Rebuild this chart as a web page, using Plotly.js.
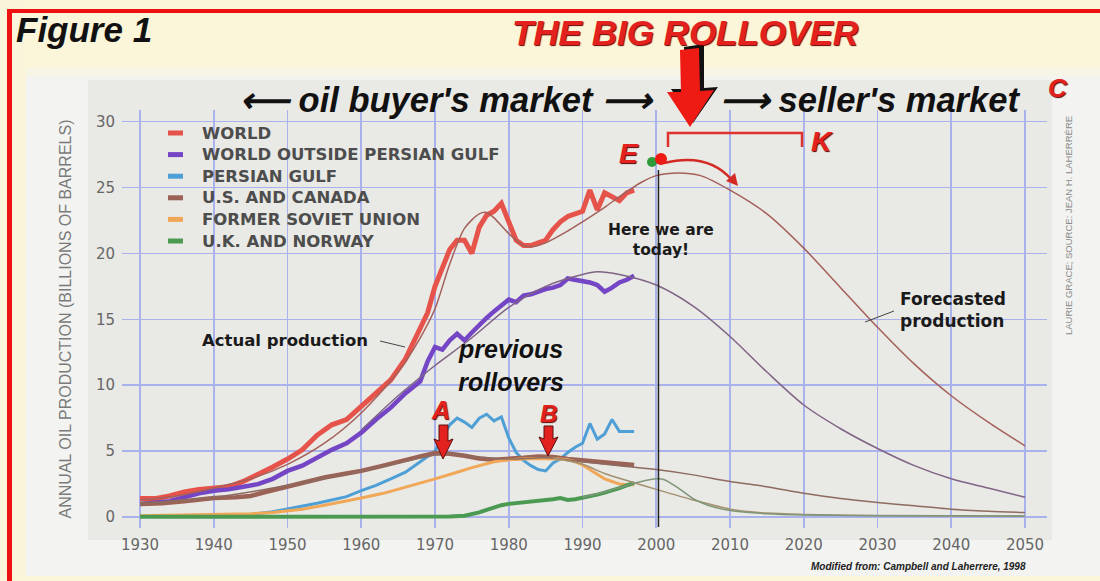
<!DOCTYPE html>
<html>
<head>
<meta charset="utf-8">
<script src="https://cdn.plot.ly/plotly-3.0.1.min.js"></script>
<style>html,body{margin:0;padding:0;background:#f3f4f1;}#chart{width:1100px;height:581px;}</style>
</head>
<body>
<div id="chart"></div>
<script>
// ---------- data ----------
const worldYears = [1930,1932,1934,1936,1938,1940,1942,1944,1946,1948,1950,1952,1954,1956,1958,1960,1962,1964,1966,1968,1969,1970,1971,1972,1973,1974,1975,1976,1977,1978,1979,1980,1981,1982,1983,1984,1985,1986,1987,1988,1989,1990,1991,1992,1993,1994,1995,1996,1997];
const worldVals  = [1.4,1.4,1.6,1.9,2.1,2.2,2.3,2.7,3.2,3.8,4.4,5.1,6.2,7.0,7.4,8.4,9.4,10.4,12.0,14.2,15.5,17.5,18.9,20.3,21.0,21.0,20.0,22.0,22.9,23.2,23.8,22.5,21.0,20.6,20.6,20.8,21.0,21.8,22.4,22.8,23.0,23.2,24.8,23.3,24.6,24.3,24.0,24.6,24.8];

const outsideYears = [1930,1932,1934,1936,1938,1940,1942,1944,1946,1948,1950,1952,1954,1956,1958,1960,1962,1964,1966,1968,1969,1970,1971,1972,1973,1974,1975,1976,1977,1978,1979,1980,1981,1982,1983,1984,1985,1986,1987,1988,1989,1990,1991,1992,1993,1994,1995,1996,1997];
const outsideVals  = [1.0,1.1,1.2,1.5,1.8,2.0,2.1,2.3,2.5,2.9,3.5,3.9,4.5,5.1,5.6,6.4,7.4,8.3,9.4,10.3,11.8,12.9,12.7,13.4,13.9,13.4,14.0,14.6,15.1,15.6,16.0,16.5,16.3,16.8,16.9,17.1,17.3,17.4,17.6,18.1,18.0,17.9,17.8,17.6,17.1,17.4,17.8,18.0,18.3];

const gulfYears = [1930,1935,1940,1945,1948,1950,1952,1954,1956,1958,1960,1962,1964,1966,1968,1970,1971,1972,1973,1974,1975,1976,1977,1978,1979,1980,1981,1982,1983,1984,1985,1986,1987,1988,1989,1990,1991,1992,1993,1994,1995,1996,1997];
const gulfVals  = [0.05,0.1,0.1,0.2,0.4,0.6,0.85,1.05,1.3,1.55,2.0,2.4,2.9,3.4,4.2,5.0,6.0,7.0,7.5,7.2,6.8,7.5,7.8,7.3,7.6,6.0,4.9,4.3,3.9,3.6,3.5,4.1,4.4,4.9,5.3,5.6,7.1,5.9,6.3,7.4,6.5,6.5,6.5];

const usYears = [1930,1933,1936,1938,1940,1943,1945,1947,1950,1952,1955,1958,1960,1963,1965,1968,1970,1972,1974,1976,1978,1980,1982,1984,1986,1988,1990,1992,1994,1996,1997];
const usVals  = [1.0,1.05,1.2,1.35,1.45,1.5,1.6,1.9,2.3,2.6,3.0,3.3,3.5,3.9,4.2,4.6,4.85,4.8,4.65,4.45,4.35,4.4,4.5,4.6,4.55,4.4,4.3,4.15,4.05,3.95,3.95];

const fsuYears = [1930,1935,1940,1945,1948,1950,1952,1955,1958,1960,1963,1965,1968,1970,1973,1975,1978,1980,1983,1985,1987,1988,1989,1990,1991,1992,1993,1994,1995,1996,1997];
const fsuVals  = [0.1,0.15,0.2,0.25,0.35,0.45,0.6,0.9,1.2,1.45,1.8,2.1,2.55,2.9,3.4,3.75,4.2,4.35,4.45,4.45,4.4,4.35,4.2,3.95,3.6,3.2,2.9,2.7,2.5,2.45,2.45];

const ukYears = [1930,1940,1950,1960,1970,1972,1974,1975,1976,1977,1978,1979,1980,1981,1982,1983,1984,1985,1986,1987,1988,1989,1990,1991,1992,1993,1994,1995,1996,1997];
const ukVals  = [0.02,0.02,0.02,0.02,0.03,0.05,0.1,0.2,0.35,0.55,0.75,0.9,1.0,1.05,1.1,1.2,1.25,1.3,1.35,1.45,1.3,1.35,1.45,1.55,1.7,1.85,2.0,2.2,2.4,2.6];

// fitted / forecasted curves (thin lines)
const worldFitYears = [1930,1935,1940,1945,1950,1955,1960,1965,1968,1970,1972,1974,1976,1977,1978,1980,1982,1983,1985,1988,1990,1993,1995,1998,2000,2003,2006,2010,2015,2020,2025,2030,2035,2040,2045,2050];
const worldFitVals  = [1.3,1.6,2.2,2.9,4.0,5.6,7.9,11.0,13.6,15.8,19.2,21.9,23.0,23.1,22.7,21.5,20.6,20.5,20.8,21.7,22.4,23.5,24.3,25.4,25.9,26.1,25.9,24.8,23.0,20.4,17.4,14.4,11.6,9.2,7.2,5.4];

const outsideFitYears = [1960,1965,1968,1970,1975,1980,1985,1990,1992,1995,2000,2005,2010,2015,2020,2025,2030,2035,2040,2045,2050];
const outsideFitVals  = [6.6,9.2,10.6,11.5,13.6,15.9,17.5,18.4,18.6,18.4,17.6,16.0,13.7,11.0,8.5,6.7,5.2,3.9,2.9,2.2,1.5];

const usFitYears = [1930,1940,1950,1960,1965,1970,1972,1975,1980,1985,1990,1995,2000,2005,2010,2015,2020,2025,2030,2035,2040,2045,2050];
const usFitVals  = [1.0,1.5,2.4,3.5,4.1,4.7,4.8,4.6,4.4,4.5,4.2,3.9,3.6,3.2,2.7,2.3,1.8,1.4,1.1,0.85,0.6,0.45,0.35];

const fsuFitYears = [1986,1990,1993,1997,2000,2005,2010,2015,2020,2030,2050];
const fsuFitVals  = [4.5,4.0,3.3,2.6,2.1,1.3,0.6,0.3,0.2,0.12,0.08];

const ukFitYears = [1990,1993,1996,1998,2000,2001,2003,2005,2007,2010,2015,2020,2030,2050];
const ukFitVals  = [1.5,1.9,2.4,2.7,2.9,2.85,2.2,1.4,0.9,0.5,0.25,0.15,0.1,0.08];

const seriesNames = ['WORLD','WORLD OUTSIDE PERSIAN GULF','PERSIAN GULF','U.S. AND CANADA','FORMER SOVIET UNION','U.K. AND NORWAY'];
const seriesColors = ['#e5534b','#7445c4','#4d9fd6','#9b6356','#f0a757','#4a9a52'];
const TODAY = 2000.3;
const xTickVals = [1930,1940,1950,1960,1970,1980,1990,2000,2010,2020,2030,2040,2050];
const yTickVals = [0,5,10,15,20,25,30];

// ---------- geometry helpers (pixel -> paper) ----------
const L = 122, R = 1047, T = 110, B = 528;
const W = R - L, H = B - T;
const px = x => (x - L) / W;
const py = y => (B - y) / H;
function pathPx(pts, close) {
  return pts.map((p, i) => (i ? 'L' : 'M') + px(p[0]).toFixed(5) + ',' + py(p[1]).toFixed(5)).join(' ') + (close ? ' Z' : '');
}

// ---------- traces ----------
const thick = [
  [worldYears, worldVals, 5],
  [outsideYears, outsideVals, 4.5],
  [gulfYears, gulfVals, 3],
  [usYears, usVals, 4.5],
  [fsuYears, fsuVals, 3],
  [ukYears, ukVals, 4]
];
const traces = thick.map((s, i) => ({
  type: 'scatter', mode: 'lines', x: s[0], y: s[1], name: seriesNames[i],
  line: {color: seriesColors[i], width: s[2]}, hoverinfo: 'x+y+name', showlegend: false
}));
const fits = [
  [worldFitYears, worldFitVals, '#a5605a'],
  [outsideFitYears, outsideFitVals, '#7f6485'],
  [usFitYears, usFitVals, '#8d6b60'],
  [fsuFitYears, fsuFitVals, '#a39070'],
  [ukFitYears, ukFitVals, '#7f9678']
];
fits.forEach(f => traces.push({
  type: 'scatter', mode: 'lines', x: f[0], y: f[1], showlegend: false,
  line: {color: f[2], width: 1.5, shape: 'spline', smoothing: 0.8}, hoverinfo: 'skip'
}));

// ---------- decorations ----------
const RED = '#e3221f';
const fontBI = (size, color, shadow) => ({family: 'Liberation Sans, Arial, sans-serif', size: size, color: color, weight: 'bold', style: 'italic', shadow: shadow || 'none'});
const fontB = (size, color) => ({family: 'DejaVu Sans, Verdana, sans-serif', size: size, color: color, weight: 'bold'});
function ann(text, x, y, font, extra) {
  return Object.assign({text: text, xref: 'paper', yref: 'paper', x: px(x), y: py(y), showarrow: false,
    xanchor: 'center', yanchor: 'middle', font: font}, extra || {});
}

const annotations = [
  ann('Figure 1', 14, 30, fontBI(35, '#111'), {xanchor: 'left'}),
  ann("⟵ oil buyer's market ⟶", 447, 100, fontBI(34.5, '#111')),
  ann("⟶ seller's market", 870, 100, fontBI(34.5, '#111')),
  ann('C', 1058, 88, fontBI(26, RED, '1px 1px 1px #5a0000')),
  ann('E', 629, 153, fontBI(28, RED, '1px 1px 1px #5a0000')),
  ann('K', 822, 141, fontBI(28, RED, '1px 1px 1px #5a0000')),
  ann('Here we are<br>today!', 661, 240, fontB(15.5, '#1a1a1a')),
  ann('Forecasted<br>production', 898, 310, fontB(17, '#1a1a1a'), {xanchor: 'left', align: 'left'}),
  ann('Actual production', 200, 340, fontB(16.5, '#1a1a1a'), {xanchor: 'left'}),
  ann('previous<br>rollovers', 511, 365, fontBI(25, '#111')),
  ann('A', 440, 410, fontBI(25, RED, '1px 1px 1px #5a0000')),
  ann('B', 548, 413, fontBI(24, RED, '1px 1px 1px #5a0000')),
  ann('LAURIE GRACE; SOURCE: JEAN H. LAHERRÈRE', 1068, 226, {family: 'Liberation Sans, Arial, sans-serif', size: 9.5, color: '#8a8a8a'}, {textangle: -90}),
  ann('Modified from: Campbell and Laherrere, 1998', 918, 566, fontBI(10, '#222'))
];

const shapes = [
  // page bands and frame
  {type: 'rect', xref: 'paper', yref: 'paper', x0: px(0), x1: px(1100), y0: py(0), y1: py(68), fillcolor: '#fbf5da', line: {width: 0}, layer: 'below'},
  {type: 'rect', xref: 'paper', yref: 'paper', x0: px(0), x1: px(1100), y0: py(68), y1: py(76), fillcolor: '#f7f5e6', line: {width: 0}, layer: 'below'},
  {type: 'rect', xref: 'paper', yref: 'paper', x0: px(0), x1: px(26), y0: py(0), y1: py(581), fillcolor: '#faf4da', line: {width: 0}, layer: 'below'},
  {type: 'rect', xref: 'paper', yref: 'paper', x0: px(0), x1: px(1100), y0: py(576), y1: py(581), fillcolor: '#fbf5da', line: {width: 0}, layer: 'below'},
  {type: 'rect', xref: 'paper', yref: 'paper', x0: px(88), x1: px(1052), y0: py(80), y1: py(540), fillcolor: '#e9e9e5', line: {width: 0}, layer: 'below'},
  {type: 'rect', xref: 'paper', yref: 'paper', x0: px(7), x1: px(1100), y0: py(9), y1: py(13), fillcolor: '#ee1111', line: {width: 0}},
  {type: 'rect', xref: 'paper', yref: 'paper', x0: px(7), x1: px(12), y0: py(9), y1: py(581), fillcolor: '#ee1111', line: {width: 0}},
  // today line
  {type: 'line', xref: 'x', yref: 'paper', x0: TODAY, x1: TODAY, y0: py(527), y1: py(170), line: {color: '#222', width: 1.5}},
  // big rollover arrow (shadow + red)
  {type: 'path', xref: 'paper', yref: 'paper', path: pathPx([[684,47],[704,44],[704,88],[718,87],[693,123],[671,89],[685,89]], true), fillcolor: '#111', line: {width: 0}},
  {type: 'path', xref: 'paper', yref: 'paper', path: pathPx([[680,50],[699,48],[700,91],[714,90],[690,127],[667,92],[681,92]], true), fillcolor: '#ee1a14', line: {width: 0}},
  // K bracket
  {type: 'path', xref: 'paper', yref: 'paper', path: pathPx([[668,147],[668,133],[802,133],[802,147]], false), line: {color: '#e0322c', width: 2.5}},
  // curved arrow
  {type: 'path', xref: 'paper', yref: 'paper', path: 'M' + px(664) + ',' + py(163) + ' Q' + px(708) + ',' + py(152) + ' ' + px(732) + ',' + py(180), line: {color: '#d42a24', width: 2.5}},
  {type: 'path', xref: 'paper', yref: 'paper', path: pathPx([[738,186],[726,181],[735,173]], true), fillcolor: '#d42a24', line: {width: 0}},
  // E dots
  {type: 'circle', xref: 'paper', yref: 'paper', x0: px(647), x1: px(657), y0: py(167), y1: py(157), fillcolor: '#2e9a3a', line: {width: 0}},
  {type: 'circle', xref: 'paper', yref: 'paper', x0: px(655), x1: px(667), y0: py(165), y1: py(153), fillcolor: '#ee1a14', line: {width: 0}},
  // leader lines
  {type: 'line', xref: 'paper', yref: 'paper', x0: px(380), x1: px(405), y0: py(341), y1: py(347), line: {color: '#444', width: 1}},
  {type: 'line', xref: 'paper', yref: 'paper', x0: px(865), x1: px(894), y0: py(322), y1: py(311), line: {color: '#444', width: 1}},
  // A and B arrows
  {type: 'path', xref: 'paper', yref: 'paper', path: pathPx([[439,425],[448,425],[448,441],[453,439],[443,459],[434,439],[439,441]], true), fillcolor: '#e3221f', line: {color: '#5a1010', width: 1}},
  {type: 'path', xref: 'paper', yref: 'paper', path: pathPx([[544,426],[553,426],[553,439],[558,437],[548,456],[539,437],[544,439]], true), fillcolor: '#e3221f', line: {color: '#5a1010', width: 1}}
];

// legend drawn as key dashes + labels
const LEG_X = 168, LEG_Y0 = 133, LEG_DY = 21.6;
seriesNames.forEach((n, i) => {
  const y = LEG_Y0 + i * LEG_DY;
  shapes.push({type: 'line', xref: 'paper', yref: 'paper', x0: px(LEG_X), x1: px(LEG_X + 15), y0: py(y), y1: py(y),
               line: {color: seriesColors[i], width: 5}});
  annotations.push(ann(n, LEG_X + 32, y, {family: 'DejaVu Sans, Verdana, sans-serif', size: 16.5, color: '#4d4d4d', weight: 'bold'}, {xanchor: 'left'}));
});

const layout = {
  width: 1100, height: 581,
  margin: {l: L, r: 1100 - R, t: T, b: 581 - B, pad: 0},
  paper_bgcolor: '#f3f4f1',
  plot_bgcolor: 'rgba(0,0,0,0)',
  title: {text: 'THE BIG ROLLOVER', x: 685 / 1100, xref: 'container', y: 1 - 33 / 581, yref: 'container', xanchor: 'center', yanchor: 'middle',
          font: fontBI(35, '#e3221f', '1px 1px 1px #6a0000')},
  font: {family: 'DejaVu Sans, Verdana, sans-serif', color: '#666'},
  xaxis: {
    range: [1927.56, 2052.98], tickvals: xTickVals, ticks: '', showline: false, zeroline: false,
    showgrid: true, gridcolor: '#aab2ee', gridwidth: 1.6,
    tickfont: {family: 'DejaVu Sans, Verdana, sans-serif', size: 15, color: '#666'}, ticklabelstandoff: 6
  },
  yaxis: {
    range: [-0.83, 30.88], tickvals: yTickVals, ticks: '', showline: false, zeroline: false,
    showgrid: true, gridcolor: '#aab2ee', gridwidth: 1.6,
    tickfont: {family: 'DejaVu Sans, Verdana, sans-serif', size: 15, color: '#666'}, ticklabelstandoff: 6,
    title: {text: 'ANNUAL OIL PRODUCTION (BILLIONS OF BARRELS)', standoff: 20,
            font: {family: 'Liberation Sans, Arial, sans-serif', size: 16, color: '#7a7a7a'}}
  },
  showlegend: false,
  annotations: annotations,
  shapes: shapes
};

Plotly.newPlot('chart', traces, layout, {displayModeBar: false, staticPlot: true});
</script>
</body>
</html>
